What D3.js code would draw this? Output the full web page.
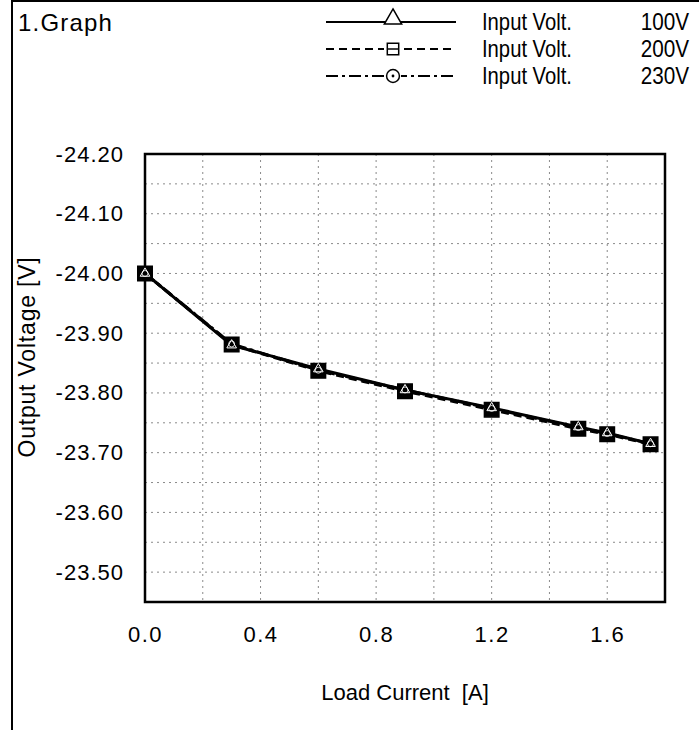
<!DOCTYPE html>
<html>
<head>
<meta charset="utf-8">
<script src="https://cdn.jsdelivr.net/npm/d3@7"></script>
<style>
  html, body { margin: 0; padding: 0; background: #fff; }
  svg { display: block; font-family: "Liberation Sans", Arial, sans-serif; }
</style>
</head>
<body>
<svg id="chart" width="699" height="730"></svg>
<script>
// Load current [A] at each measurement point
const loadCurrent = [0, 0.3, 0.6, 0.9, 1.2, 1.5, 1.6, 1.75];
// Output voltage [V] for each input voltage
const vout100 = [-24.000, -23.880, -23.840, -23.805, -23.775, -23.743, -23.733, -23.715];
const vout200 = [-24.000, -23.881, -23.837, -23.803, -23.772, -23.740, -23.731, -23.714];
const vout230 = [-24.000, -23.882, -23.838, -23.805, -23.774, -23.742, -23.732, -23.715];
const seriesNames = ["100V", "200V", "230V"];
const xTicks = [0.0, 0.4, 0.8, 1.2, 1.6];
const yTicks = [-24.20, -24.10, -24.00, -23.90, -23.80, -23.70, -23.60, -23.50];

const svg = d3.select("#chart");
const plot = { left: 145, right: 665, top: 154, bottom: 602 };

const x = d3.scaleLinear().domain([0, 1.8]).range([plot.left, plot.right]);
const y = d3.scaleLinear().domain([-24.20, -23.45]).range([plot.top, plot.bottom]);

// number formats with a plain hyphen for the minus sign
const locale = d3.formatLocale({ decimal: ".", thousands: ",", grouping: [3], currency: ["", ""], minus: "-" });
const fmtY = locale.format(".2f");
const fmtX = locale.format(".1f");

// page frame (top and left rules)
svg.append("line").attr("x1", 12).attr("x2", 699).attr("y1", 1).attr("y2", 1)
  .attr("stroke", "#000").attr("stroke-width", 2);
svg.append("line").attr("x1", 12).attr("x2", 12).attr("y1", 0).attr("y2", 730)
  .attr("stroke", "#000").attr("stroke-width", 2);

// title
svg.append("text").attr("x", 18).attr("y", 31).attr("font-size", 24)
  .attr("letter-spacing", 1.2).text("1.Graph");

// dotted grid
const gridX = d3.range(0.2, 1.7, 0.2);
const gridY = d3.range(-24.15, -23.49, 0.05);
const grid = svg.append("g").attr("stroke", "#8a8a8a").attr("stroke-width", 1)
  .attr("stroke-dasharray", "2,4");
grid.selectAll("line.gx").data(gridX).join("line").attr("class", "gx")
  .attr("x1", d => x(d)).attr("x2", d => x(d))
  .attr("y1", plot.top).attr("y2", plot.bottom);
grid.selectAll("line.gy").data(gridY).join("line").attr("class", "gy")
  .attr("x1", plot.left).attr("x2", plot.right)
  .attr("y1", d => y(d)).attr("y2", d => y(d));

// axes (labels only, the plot box supplies the lines)
const yAxis = d3.axisLeft(y).tickValues(yTicks).tickFormat(fmtY).tickSize(0).tickPadding(21);
const gy = svg.append("g").attr("transform", `translate(${plot.left},0)`).call(yAxis);
gy.select(".domain").remove();
gy.selectAll("text").attr("font-size", 22).attr("letter-spacing", 1)
  .attr("font-family", "Liberation Sans, Arial, sans-serif").attr("fill", "#000");

const xAxis = d3.axisBottom(x).tickValues(xTicks).tickFormat(fmtX).tickSize(0).tickPadding(24);
const gx = svg.append("g").attr("transform", `translate(0,${plot.bottom})`).call(xAxis);
gx.select(".domain").remove();
gx.selectAll("text").attr("font-size", 22).attr("letter-spacing", 1.5)
  .attr("font-family", "Liberation Sans, Arial, sans-serif").attr("fill", "#000");

// axis titles
svg.append("text").attr("x", 405).attr("y", 700).attr("text-anchor", "middle")
  .attr("font-size", 22).attr("xml:space", "preserve").text("Load Current  [A]");
svg.append("text").attr("transform", "translate(35,357) rotate(-90)").attr("text-anchor", "middle")
  .attr("font-size", 23).attr("letter-spacing", 0.8).text("Output Voltage [V]");

// plot box
svg.append("rect").attr("x", plot.left).attr("y", plot.top)
  .attr("width", plot.right - plot.left).attr("height", plot.bottom - plot.top)
  .attr("fill", "none").attr("stroke", "#000").attr("stroke-width", 2.5);

const series = [
  { name: seriesNames[0], values: vout100, dash: null, symbol: d3.symbolTriangle },
  { name: seriesNames[1], values: vout200, dash: "8,5", symbol: d3.symbolSquare },
  { name: seriesNames[2], values: vout230, dash: "12,4,3,4", symbol: d3.symbolCircle }
];

const line = d3.line().x((d, i) => x(loadCurrent[i])).y(d => y(d));

series.forEach(s => {
  svg.append("path").datum(s.values).attr("d", line)
    .attr("fill", "none").attr("stroke", "#000").attr("stroke-width", 3)
    .attr("stroke-dasharray", s.dash);
});

// markers: the three symbols overlap at each point into a dark block
const markerStyle = {
  [seriesNames[1]]: { size: 210, fill: "#000", stroke: "#000", width: 1.5 },
  [seriesNames[0]]: { size: 40, fill: "none", stroke: "#fff", width: 1 },
  [seriesNames[2]]: { size: 28, fill: "none", stroke: "#fff", width: 0.8 }
};
[series[1], series[0], series[2]].forEach(s => {
  const st = markerStyle[s.name];
  svg.append("g").selectAll("path").data(s.values).join("path")
    .attr("transform", (d, i) => `translate(${x(loadCurrent[i])},${y(d)})`)
    .attr("d", d3.symbol().type(s.symbol).size(st.size))
    .attr("fill", st.fill).attr("stroke", st.stroke).attr("stroke-width", st.width);
});

// legend
const legendRows = [22, 49, 76];
series.forEach((s, i) => {
  const ly = legendRows[i];
  const g = svg.append("g");
  g.append("line").attr("x1", 326).attr("x2", 456).attr("y1", ly).attr("y2", ly)
    .attr("stroke", "#000").attr("stroke-width", 2).attr("stroke-dasharray", s.dash);
  if (i === 0) {
    g.append("path").attr("transform", `translate(393,${ly - 3})`)
      .attr("d", d3.symbol().type(d3.symbolTriangle).size(130))
      .attr("fill", "#fff").attr("stroke", "#000").attr("stroke-width", 1.5);
  } else if (i === 1) {
    g.append("rect").attr("x", 384).attr("y", ly - 8).attr("width", 18).attr("height", 16).attr("fill", "#fff");
    g.append("path").attr("transform", `translate(393,${ly})`)
      .attr("d", d3.symbol().type(d3.symbolSquare).size(130))
      .attr("fill", "none").attr("stroke", "#000").attr("stroke-width", 1.5);
    g.append("line").attr("x1", 387).attr("x2", 399).attr("y1", ly).attr("y2", ly)
      .attr("stroke", "#000").attr("stroke-width", 1.5);
  } else {
    g.append("rect").attr("x", 385).attr("y", ly - 8).attr("width", 16).attr("height", 16).attr("fill", "#fff");
    g.append("path").attr("transform", `translate(393,${ly})`)
      .attr("d", d3.symbol().type(d3.symbolCircle).size(130))
      .attr("fill", "#fff").attr("stroke", "#000").attr("stroke-width", 1.5);
    g.append("circle").attr("cx", 393).attr("cy", ly).attr("r", 1.4).attr("fill", "#000");
  }
  // legend labels are set slightly condensed
  g.append("text").attr("transform", `translate(482,${ly + 8}) scale(0.88,1)`)
    .attr("font-size", 23).text("Input Volt.");
  g.append("text").attr("transform", `translate(689,${ly + 8}) scale(0.9,1)`)
    .attr("font-size", 23).attr("text-anchor", "end").text(s.name);
});
</script>
</body>
</html>
